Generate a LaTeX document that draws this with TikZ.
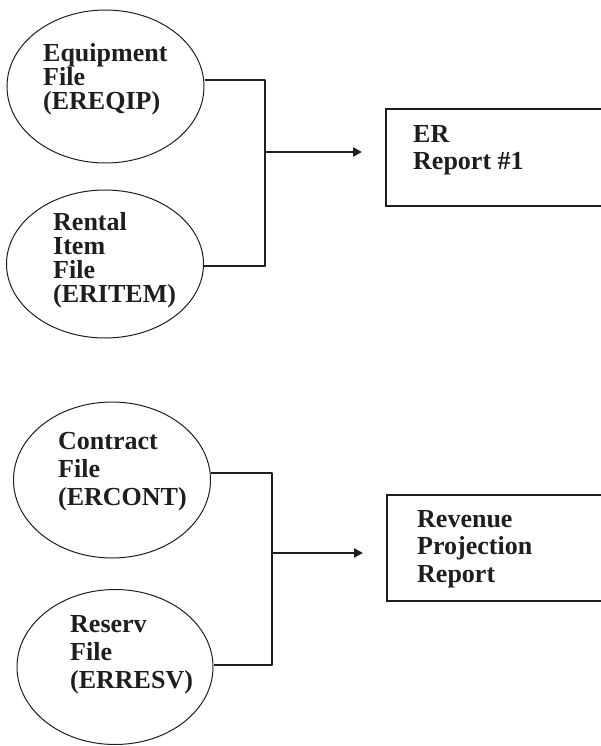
\documentclass[tikz,border=0pt]{standalone}
\usepackage{fontspec}
\setmainfont{Liberation Serif}
\usetikzlibrary{shapes.geometric,arrows.meta}
\definecolor{ink}{HTML}{1E1E1E}
\newcommand\mytightlines{\lineskiplimit=-100pt\relax}
\begin{document}
\begin{tikzpicture}[x=1pt,y=-1pt,
  file/.style={ellipse,draw=ink,line width=1pt,inner sep=0pt},
  lbl/.style={anchor=north west,inner sep=0pt,align=left,text=ink,
    font={\bfseries\fontsize{26}{#1}\selectfont\mytightlines}},
  rep/.style={draw=ink,line width=1.6pt,anchor=north west,inner sep=0pt},
  conn/.style={draw=ink,line width=2.8pt,line join=round},
  flow/.style={draw=ink,line width=2.4pt,-{Triangle[length=9pt,width=9pt]}}]
\clip (0,0) rectangle (601,746);
% files
\node[file,minimum width=197pt,minimum height=153pt] (e1) at (105.5,86.5) {};
\node[file,minimum width=197pt,minimum height=148pt] (e2) at (105,264) {};
\node[file,minimum width=197pt,minimum height=156pt] (e3) at (112,480) {};
\node[file,minimum width=196pt,minimum height=155pt] (e4) at (115,667) {};
\node[lbl=24] (t1) at (43,43) {Equipment\\File\\(EREQIP)};
\node[lbl=24] (t2) at (53,212) {Rental\\Item\\File\\(ERITEM)};
\node[lbl=28] (t3) at (58,432) {Contract\\File\\(ERCONT)};
\node[lbl=28] (t4) at (70,615) {Reserv\\File\\(ERRESV)};
% reports
\node[rep,minimum width=260pt,minimum height=97pt] (r1) at (385,108) {};
\node[rep,minimum width=260pt,minimum height=106pt] (r2) at (386,494) {};
\node[lbl=27] (t5) at (413,125) {ER\\Report \#1};
\node[lbl=27.5] (t6) at (417,510) {Revenue\\Projection\\Report};
% connectors
\coordinate (b1t) at (265,80);
\coordinate (b1b) at (265,266);
\coordinate (b1m) at (265,152);
\coordinate (a1) at (362,152);
\coordinate (b2t) at (272,473);
\coordinate (b2b) at (272,665);
\coordinate (b2m) at (272,553);
\coordinate (a2) at (363,553);
\draw[conn] (b1t -| e1.east) -- (b1t) -- (b1b) -- (b1b -| e2.east);
\draw[flow] (b1m) -- (a1);
\draw[conn] (b2t -| e3.east) -- (b2t) -- (b2b) -- (b2b -| e4.east);
\draw[flow] (b2m) -- (a2);
\end{tikzpicture}
\end{document}
